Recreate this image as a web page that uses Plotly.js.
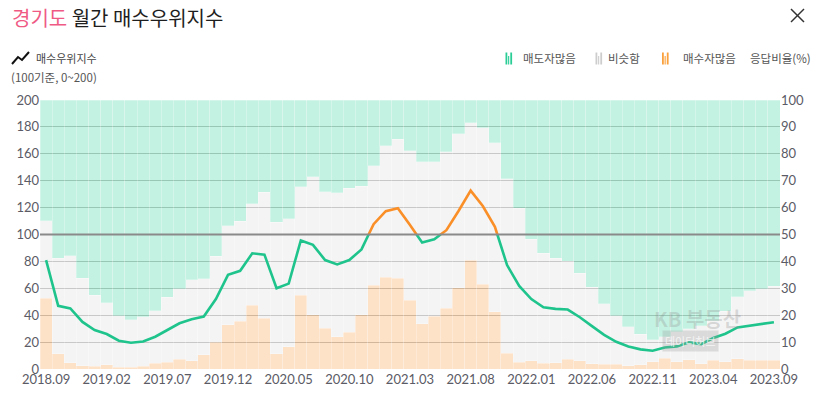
<!DOCTYPE html>
<html>
<head>
<meta charset="utf-8">
<script src="https://cdn.plot.ly/plotly-3.0.1.min.js"></script>
<style>
html,body{margin:0;padding:0;background:#fff;}
#chart{width:814px;height:393px;}
</style>
</head>
<body>
<div id="chart"></div>
<script>
// ---- data (monthly, 2018.09 ~ 2023.09) ----
const months = [
 "2018.09","2018.10","2018.11","2018.12","2019.01","2019.02","2019.03","2019.04","2019.05","2019.06","2019.07","2019.08",
 "2019.09","2019.10","2019.11","2019.12","2020.01","2020.02","2020.03","2020.04","2020.05","2020.06","2020.07","2020.08",
 "2020.09","2020.10","2020.11","2020.12","2021.01","2021.02","2021.03","2021.04","2021.05","2021.06","2021.07","2021.08",
 "2021.09","2021.10","2021.11","2021.12","2022.01","2022.02","2022.03","2022.04","2022.05","2022.06","2022.07","2022.08",
 "2022.09","2022.10","2022.11","2022.12","2023.01","2023.02","2023.03","2023.04","2023.05","2023.06","2023.07","2023.08","2023.09"
];
const tickLabels = ["2018.09","2019.02","2019.07","2019.12","2020.05","2020.10","2021.03","2021.08","2022.01","2022.06","2022.11","2023.04","2023.09"];

// 매수우위지수 (0~200)
const buyIndex = [81,47,45,35,29,26,21,19.5,20.5,24,29,34,37,39,52,70,73,86,85,60,63.5,95.6,92.3,81,77.8,81,88.9,107.7,117.3,119.5,
 107,94,96.5,103.2,117.5,132.6,121.2,105.7,77.3,61.7,52,45.9,44.7,44.2,38.5,31.9,25.4,20.2,16.8,14.6,13.6,16,16.8,19.8,18.5,23,26.2,30.9,32.1,33.8,34.8];

// 응답비율(%)
const buyerMore = [26.3,5.7,2.3,1.2,1.1,1.5,0.7,0.7,1.1,2.2,2.6,3.7,3.1,5.3,9.9,16.4,17.8,23.7,18.9,5.6,8.3,27.4,20.2,15.1,11.9,13.7,20.2,31.1,34.1,33.7,
 25.6,16.9,19.6,22.6,30.2,40.4,31.5,21.2,5.9,2.6,3.0,2.2,2.3,3.7,3.1,1.9,1.7,1.7,1.2,1.6,2.7,4.0,2.7,3.5,2.0,3.2,2.7,3.8,3.2,3.3,3.3];
const similar = [28.9,35.4,39.8,32.5,26.3,23.1,19.1,17.6,18.3,19.4,24.1,26.1,30.1,28.2,32.1,36.9,37.2,37.8,46.9,49.0,47.5,40.4,51.3,50.8,53.7,53.5,47.7,44.5,48.9,51.7,
 55.5,60.2,57.5,58.1,57.3,51.1,58.1,63.0,64.8,57.2,45.2,40.9,38.9,36.3,32.5,28.5,22.6,18.1,14.6,11.3,8.1,8.0,11.1,11.5,14.0,14.8,18.8,23.1,25.8,26.6,27.5];
const sellerMore = [44.8,58.9,57.9,66.3,72.6,75.4,80.2,81.7,80.6,78.4,73.3,70.2,66.8,66.5,58.0,46.7,45.0,38.5,34.2,45.4,44.2,32.2,28.5,34.1,34.4,32.8,32.1,24.4,17.0,14.6,
 18.9,22.9,22.9,19.3,12.5,8.5,10.4,15.8,29.3,40.2,51.8,56.9,58.8,60.0,64.4,69.6,75.7,80.2,84.2,87.1,89.2,88.0,86.2,85.0,84.0,82.0,78.5,73.1,71.0,70.1,69.2];

// ---- build ----
const xIdx = months.map((m,i)=>i);
const tickVals = tickLabels.map(t=>months.indexOf(t));
const BAR_OP = 0.6;
const barLine = {color:'rgba(255,255,255,0.45)', width:0.6};

const traces = [
 {type:'bar', x:xIdx, y:buyerMore, name:'매수자많음', yaxis:'y', width:1,
  marker:{color:'rgb(253,207,164)', opacity:BAR_OP, line:barLine}, hoverinfo:'skip'},
 {type:'bar', x:xIdx, y:similar, name:'비슷함', yaxis:'y', width:1,
  marker:{color:'rgb(237,238,237)', opacity:BAR_OP, line:barLine}, hoverinfo:'skip'},
 {type:'bar', x:xIdx, y:sellerMore, name:'매도자많음', yaxis:'y', width:1,
  marker:{color:'rgb(158,235,208)', opacity:BAR_OP, line:barLine}, hoverinfo:'skip'}
];

// split index line into green (<100) and orange (>100) runs
function splitLine(vals, level){
  const g={x:[],y:[]}, o={x:[],y:[]};
  let cur=null;
  for(let i=0;i<vals.length-1;i++){
    const y0=vals[i], y1=vals[i+1];
    const pts=[[i,y0]];
    if((y0-level)*(y1-level)<0){ const t=(level-y0)/(y1-y0); pts.push([i+t,level]); }
    pts.push([i+1,y1]);
    for(let k=0;k<pts.length-1;k++){
      const a=pts[k], b=pts[k+1];
      const tr=((a[1]+b[1])/2>level)?o:g;
      if(tr!==cur){
        if(tr.x.length){tr.x.push(null);tr.y.push(null);}
        tr.x.push(a[0]); tr.y.push(a[1]);
        cur=tr;
      }
      tr.x.push(b[0]); tr.y.push(b[1]);
    }
  }
  return {g,o};
}
const seg = splitLine(buyIndex, 100);
traces.push({type:'scatter', mode:'lines', x:seg.g.x, y:seg.g.y, yaxis:'y2', connectgaps:false,
  line:{color:'rgb(31,196,141)', width:2.6}, hoverinfo:'skip', name:'매수우위지수'});
traces.push({type:'scatter', mode:'lines', x:seg.o.x, y:seg.o.y, yaxis:'y2', connectgaps:false,
  line:{color:'rgb(250,143,40)', width:2.6}, hoverinfo:'skip', name:'매수우위지수(100+)'});

// paper helpers (plot area: x 40..780, y 100..369 px)
const PX = x => (x-40)/740;
const PY = y => (369-y)/269;
const KR = '"Noto Sans CJK KR", "Noto Sans", sans-serif';
const NUM = 'Lato, "Noto Sans", sans-serif';

const shapes = [
 {type:'line', xref:'paper', x0:0, x1:1, yref:'y2', y0:100, y1:100, line:{color:'#8a8a8a', width:2}, layer:'above'},
 // close X
 {type:'line', xref:'paper', yref:'paper', x0:PX(791), x1:PX(804), y0:PY(9), y1:PY(22), line:{color:'#333', width:1.5}},
 {type:'line', xref:'paper', yref:'paper', x0:PX(791), x1:PX(804), y0:PY(22), y1:PY(9), line:{color:'#333', width:1.5}},
 // line legend icon
 {type:'path', xref:'paper', yref:'paper',
  path:`M ${PX(12)} ${PY(64)} L ${PX(18)} ${PY(57)} L ${PX(22)} ${PY(60)} L ${PX(29)} ${PY(52)}`,
  line:{color:'#111', width:2}},
];
function barIcon(x, color){
  const defs=[[0,1.8,52.5],[2.6,1.1,56],[4.8,1.8,52.5]];
  defs.forEach(d=>{
    shapes.push({type:'rect', xref:'paper', yref:'paper', x0:PX(x+d[0]), x1:PX(x+d[0]+d[1]), y0:PY(64.5), y1:PY(d[2]),
      fillcolor:color, line:{width:0}});
  });
}
barIcon(505.5,'rgb(42,205,150)');
barIcon(595.5,'rgb(205,205,205)');
barIcon(662,'rgb(250,160,60)');

const annotations = [
 {xref:'paper', yref:'paper', x:PX(10), y:PY(17), xanchor:'left', yanchor:'middle', showarrow:false,
  text:'<span style="color:#ef5a85">경기도</span> 월간 매수우위지수', font:{family:KR, size:20, color:'#1e1e1e'}},
 {xref:'paper', yref:'paper', x:PX(34), y:PY(58), xanchor:'left', yanchor:'middle', showarrow:false,
  text:'매수우위지수', font:{family:KR, size:11, color:'#444'}},
 {xref:'paper', yref:'paper', x:PX(9), y:PY(76.5), xanchor:'left', yanchor:'middle', showarrow:false,
  text:'(100기준, 0~200)', font:{family:KR, size:11.5, color:'#555'}},
 {xref:'paper', yref:'paper', x:PX(521), y:PY(58.5), xanchor:'left', yanchor:'middle', showarrow:false,
  text:'매도자많음', font:{family:KR, size:11.5, color:'#555'}},
 {xref:'paper', yref:'paper', x:PX(606), y:PY(58.5), xanchor:'left', yanchor:'middle', showarrow:false,
  text:'비슷함', font:{family:KR, size:11.5, color:'#555'}},
 {xref:'paper', yref:'paper', x:PX(681), y:PY(58.5), xanchor:'left', yanchor:'middle', showarrow:false,
  text:'매수자많음', font:{family:KR, size:11.5, color:'#555'}},
 {xref:'paper', yref:'paper', x:PX(748), y:PY(58.5), xanchor:'left', yanchor:'middle', showarrow:false,
  text:'응답비율(%)', font:{family:KR, size:11.5, color:'#555'}},
 // watermark
 {xref:'paper', yref:'paper', x:PX(697), y:PY(318), xanchor:'center', yanchor:'middle', showarrow:false,
  text:'<b>KB 부동산</b>', font:{family:KR, size:20, color:'rgba(140,140,140,0.28)'}},
 {xref:'paper', yref:'paper', x:PX(690), y:PY(340.5), xanchor:'center', yanchor:'middle', showarrow:false,
  text:'데이터허브', font:{family:KR, size:11, color:'rgba(255,255,255,0.75)'},
  bgcolor:'rgba(150,150,150,0.28)', borderpad:2}
];

const layout = {
  width:814, height:393,
  margin:{l:40, r:34, t:100, b:24},
  paper_bgcolor:'#fff', plot_bgcolor:'#fff',
  barmode:'stack', bargap:0, showlegend:false,
  xaxis:{range:[-0.5, months.length-0.5], tickvals:tickVals, ticktext:tickLabels, showgrid:false, zeroline:false,
    showline:false, ticks:'', ticklabelstandoff:1, tickfont:{family:NUM, size:13, color:'#5b5b66'}, fixedrange:true},
  yaxis:{range:[0,100], side:'right', dtick:10, showgrid:false, zeroline:false, ticks:'',
    tickfont:{family:NUM, size:13, color:'#5b5b66'}, fixedrange:true},
  yaxis2:{range:[0,200], side:'left', overlaying:'y', dtick:20, showgrid:true, gridcolor:'#919191', gridwidth:1,
    zeroline:false, ticks:'', tickfont:{family:NUM, size:13, color:'#5b5b66'}, fixedrange:true},
  shapes:shapes, annotations:annotations
};

Plotly.newPlot('chart', traces, layout, {displayModeBar:false, staticPlot:true});
</script>
</body>
</html>
